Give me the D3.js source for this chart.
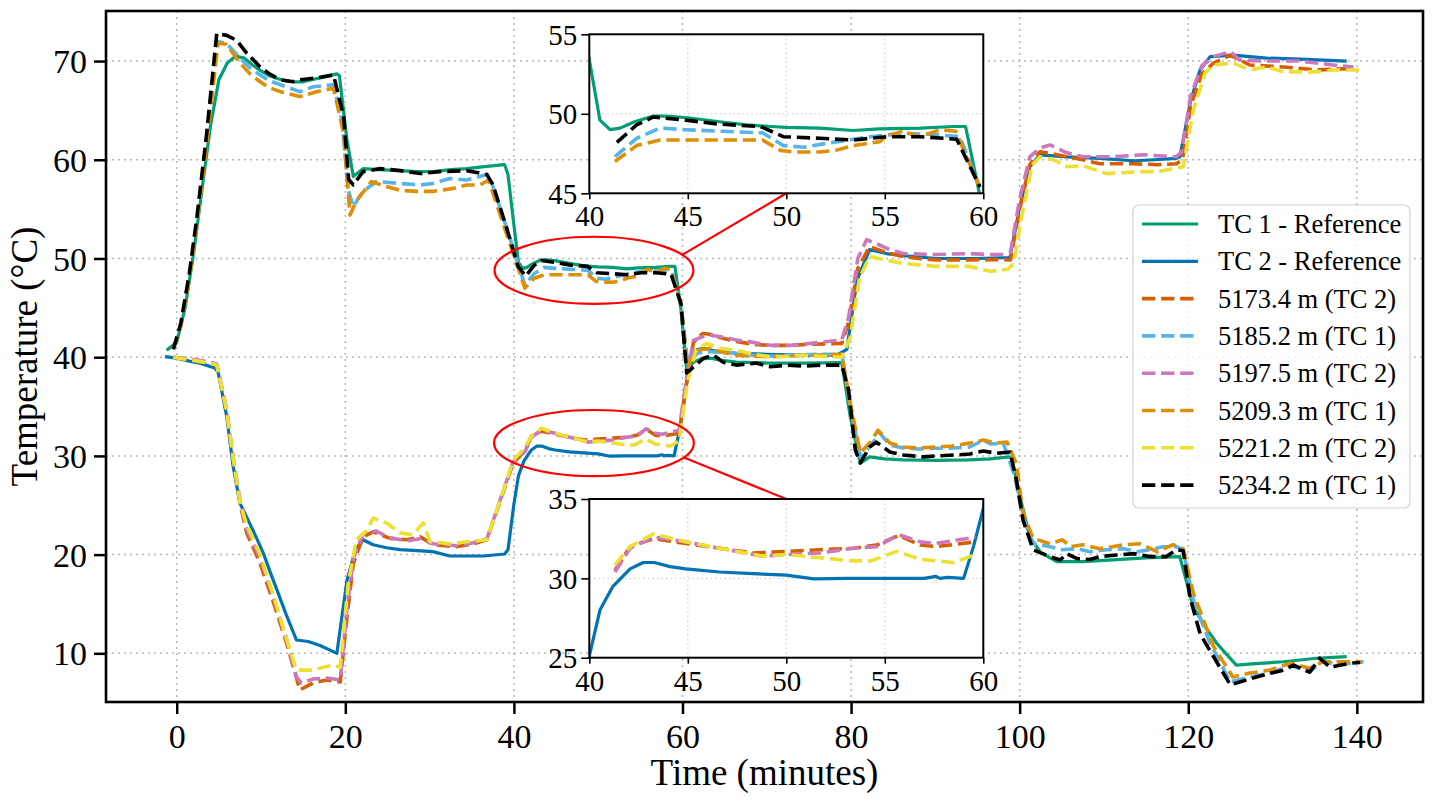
<!DOCTYPE html>
<html>
<head>
<meta charset="utf-8">
<script src="https://cdn.jsdelivr.net/npm/d3@7"></script>
<style>
  body { margin: 0; background: #fff; }
  text { font-family: "Liberation Serif", "Times New Roman", serif; fill: #000; }
</style>
</head>
<body>
<svg id="chart" width="1434" height="803"></svg>
<script>
// ---- data: [time (min), temperature (°C)] ----
const tc1Ref = [[-1.2,40.7],[0,41.5],[1,45],[2,50.5],[3,57],[4,63.4],[5,68.1],[6,69.8],[7,70.5],[8,70.3],[9,69.6],[10,69.0],[11,68.5],[12,68.2],[13,68.0],[14,67.9],[15,67.9],[16,68.1],[17,68.3],[18,68.5],[19,68.7],[19.3,68.5],[20.2,62],[20.95,58.3],[22.1,59.1],[24,59.0],[26.5,58.9],[28.5,58.8],[30.4,58.8],[32.5,59.0],[34.4,59.1],[36.5,59.3],[38.9,59.5],[39.3,58.5],[40,53.4],[40.54,49.6],[41.05,49.0],[41.56,49.1],[42.3,49.5],[43.25,49.86],[43.9,49.85],[45,49.75],[46.6,49.5],[48,49.3],[49.2,49.2],[50,49.15],[51.7,49.1],[53.4,48.95],[54.7,49.05],[56.8,49.1],[58.5,49.2],[59.1,49.2],[59.8,45],[60.5,38.7],[61.3,39.5],[62.1,39.8],[63.3,39.9],[64.5,39.7],[66.4,39.5],[68.5,39.45],[70.4,39.4],[74.4,39.4],[78.9,39.45],[79.9,34],[81.1,29.25],[82.2,29.9],[84,29.7],[86.2,29.6],[90.1,29.55],[94,29.6],[96.5,29.7],[98.8,29.9],[99.05,29.76],[100,26],[101.2,21.8],[102.5,20.2],[104.4,19.3],[107.5,19.3],[111.5,19.5],[115.5,19.7],[119.0,19.8],[120.6,14.7],[122,12.7],[123.4,11],[125.7,8.8],[128,8.95],[131.3,9.15],[135.2,9.5],[138.8,9.66]];

const tc2Ref = [[-1.4,40.05],[0,39.9],[1.5,39.6],[2.76,39.4],[4.5,38.9],[4.9,38.5],[5.93,34],[6.7,28.9],[7.5,25.2],[8.3,23.8],[9.3,22],[10.3,20.1],[11.1,18.2],[11.9,16.4],[13,13.9],[14.2,11.35],[15.6,11.2],[17.0,10.8],[18,10.4],[19,10],[19.4,12.5],[20.2,17.4],[21.2,20.5],[22.1,21.5],[23.3,21],[24.9,20.7],[26.5,20.5],[28.5,20.4],[30.4,20.3],[32.4,19.86],[34.5,19.86],[36.4,19.86],[38.9,20.06],[39.3,20.5],[40,25.1],[40.54,28],[41.2,29.5],[42.07,30.6],[42.74,31.0],[43.3,31.0],[44.1,30.74],[44.9,30.6],[46.6,30.4],[48.3,30.3],[50,30.2],[51.4,29.97],[53,30],[55,30],[57,30],[57.6,30.12],[57.8,30],[58.2,30.06],[59,30],[59.5,32],[60,34.4],[60.6,38],[61.3,40.7],[62.5,40.9],[64,40.6],[66.4,40.4],[70,40.3],[74,40.2],[78.3,40.2],[79.5,40.8],[80.7,47.8],[82.2,50.9],[84.2,50.5],[86,50.3],[90.1,50.0],[95,50],[98.85,50.1],[100,55.2],[101.2,59.3],[102.4,60.5],[105.6,60.3],[109.5,60.15],[113.5,59.9],[116,60],[118.6,60.15],[119,60.3],[120.3,66],[121.4,69.1],[122.6,70.45],[125.3,70.6],[129.3,70.3],[133.3,70.2],[138.8,70.0]];

const d5173 = [[-0.4,40.0],[1,39.8],[2.5,39.6],[3.95,39.4],[4.75,39.2],[5.9,34.65],[6.7,29.6],[7.5,25.2],[8.3,22.2],[9.9,19.1],[11.5,15.1],[13.05,11.0],[14.6,6.3],[16.2,7.0],[17.8,7.3],[19.4,7.1],[20.2,13.7],[20.95,19.1],[22.1,21.8],[23.3,22.3],[25.3,21.65],[27.3,21.5],[28.9,21.8],[30.4,21.0],[33.2,20.8],[35.2,21.1],[36.8,21.5],[38.4,25.5],[39.9,29.25],[41.3,30.5],[42.07,32.0],[43.25,32.5],[44.9,32.2],[46.6,31.9],[48.3,31.6],[50.0,31.7],[51.7,31.8],[53.4,31.9],[54.6,32.1],[55.7,32.7],[56.8,32.1],[57.6,32.0],[59.6,32.3],[60.5,37.5],[61.3,41.5],[62.4,42.4],[63.5,42.3],[64.4,42.0],[66.4,41.6],[68.4,41.3],[70.4,41.2],[72.5,41.2],[75.2,41.3],[78.9,41.4],[79.7,43.5],[80.8,49],[82.2,51.2],[84.2,50.6],[86.2,50.2],[88,50],[90.1,49.85],[94,49.85],[97,49.9],[98.9,49.85],[100,55],[101.2,59.5],[102.4,60.8],[104,60.6],[105.6,60.3],[107.5,60],[109.5,59.6],[113.5,59.6],[116.3,59.5],[118.6,59.6],[119.3,60],[120.3,65.5],[121.6,68.7],[123,69.8],[125,70.6],[127.3,69.6],[131.3,69.4],[135.2,69.1],[139.6,69.25]];

const d5185 = [[-0.4,40.8],[0.5,43.3],[1.5,48.2],[2.4,53.8],[3.6,62.3],[4.7,72],[5.9,71.8],[7.5,70.3],[8.7,69.3],[9.9,68.6],[11,68],[12.3,67.6],[14.6,66.9],[16.2,67.4],[18.6,67.6],[19.6,64],[20.35,56.9],[20.95,55.25],[22.1,56.8],[23.7,57.8],[26.5,57.6],[28.9,57.45],[30.4,57.6],[32.4,58.1],[34.4,57.95],[36.8,58.5],[37.4,57.6],[39.1,53.2],[41.3,47.3],[42.4,48.46],[43.6,49.1],[44.9,49.0],[46.8,48.9],[48.8,48.8],[49.85,48.0],[50.9,47.9],[52.6,48.25],[54.25,48.56],[55.9,48.77],[57.5,48.7],[58.8,48.56],[59.8,45.5],[60.6,39.5],[61.8,40.4],[62.9,40.55],[64.6,40.5],[66.4,40.4],[68.4,40.2],[70.4,40.1],[72.5,40.2],[75.9,40.3],[78.9,40.3],[79.9,35],[81.1,29.9],[82.2,30.9],[83.4,32.3],[84.6,31.1],[86.2,30.8],[88,30.7],[90.1,30.77],[92,30.8],[94.1,30.9],[95.7,31.6],[96.6,31.2],[98.05,31.3],[99.4,28],[100.4,23.8],[101.6,21.1],[103.6,20.8],[105.1,20.5],[106.8,20.6],[108.3,20.3],[110.3,20.5],[112.3,20.6],[113.9,20.3],[115.5,20.5],[117.0,20.8],[118.6,20.8],[119.4,20.5],[120.6,15.4],[122.6,11.0],[125.0,7.1],[127.3,7.6],[129.7,8.0],[132.1,8.8],[134.4,8.1],[136.0,9.3],[137.6,8.8],[139.2,9.0],[140.8,9.15]];

const d5197 = [[-0.4,40.0],[1,39.9],[2.5,39.7],[3.95,39.5],[4.75,39.3],[5.9,34.8],[6.7,29.8],[7.5,25.5],[8.3,22.6],[9.9,19.6],[11.5,15.6],[13.05,11.4],[14.2,7.6],[14.8,7.0],[16.2,7.4],[17.8,7.5],[19.4,7.3],[20.2,14.5],[20.95,19.6],[22.1,22.1],[23.6,22.4],[25.3,21.7],[27.3,21.4],[28.9,21.6],[30.4,21.1],[33.2,20.9],[35.2,21.2],[36.8,21.6],[38.4,25.6],[39.9,29.4],[41.3,30.4],[42.07,31.9],[43.25,32.6],[44.9,32.3],[46.6,31.9],[48.8,31.4],[50.0,31.5],[51.7,31.6],[53.4,31.9],[54.6,32.0],[55.7,32.75],[56.8,32.3],[57.6,32.2],[59.6,32.6],[60.5,38],[61.3,41.7],[62.9,42.25],[64.4,42.1],[66.4,41.75],[68.4,41.5],[70.4,41.2],[72.8,41.2],[75.2,41.4],[78.9,41.75],[79.7,44],[80.8,50],[81.85,51.9],[83.0,51.5],[84.6,50.9],[86.2,50.5],[90.1,50.4],[94.1,50.5],[96,50.4],[98.05,50.4],[98.9,50.6],[100,56],[101.2,60.3],[102.4,61.2],[103.6,61.5],[105.6,60.7],[107.5,60.3],[110.7,60.3],[114.7,60.5],[118.6,60.3],[119.2,60.8],[120.3,66.5],[121.6,69.5],[123,70.45],[125,70.95],[126.1,70.1],[129.3,70.0],[133.3,70.0],[137.2,69.6],[139.6,69.4]];

const d5209 = [[-0.4,40.8],[0.5,43.2],[1.5,48],[2.4,53.5],[3.6,62],[4.9,71.8],[5.9,71.7],[7.5,69.8],[8.7,68.7],[9.9,67.9],[11,67.3],[12.3,66.9],[14.6,66.4],[16.6,66.9],[18.6,67.25],[19.8,62.7],[20.55,54.4],[21.35,55.9],[23.1,57.8],[24.8,57.3],[26.5,56.9],[28.5,56.8],[30.4,56.8],[32.8,57.1],[34.4,57.45],[36.0,57.45],[37,57.95],[39.1,52.55],[41.3,47.0],[42.4,48.0],[43.6,48.35],[44.9,48.35],[46.8,48.35],[48.8,48.35],[49.7,47.7],[50.35,47.6],[51.7,47.6],[52.5,47.7],[53.4,48.0],[54.75,48.25],[55.1,48.6],[55.9,48.9],[56.8,48.56],[57.8,49.0],[58.6,48.9],[59.8,45.4],[60.6,39],[61.7,40.7],[63.3,40.9],[64.8,40.5],[66.4,40.2],[68.4,40.1],[70.4,40.05],[72.4,40.1],[74.4,40.2],[76.6,40.2],[78.9,40.3],[79.9,35.4],[81.1,30.3],[82.2,31.3],[83.2,32.6],[84.6,31.3],[86.2,30.9],[88,30.8],[90.1,30.9],[92,31.0],[94.1,31.3],[95.7,31.6],[97.3,31.3],[98.5,31.4],[99.6,29.25],[100.4,24.2],[101.6,21.65],[103.6,21.1],[105.1,21.5],[106,20.8],[107.5,21],[109.5,20.6],[111,20.8],[112.3,21],[114.3,21.1],[116.3,20.3],[118.2,21],[119.4,20.6],[120.6,16.1],[123.0,10.7],[125.3,7.6],[127.3,8.0],[129.7,8.3],[132.1,9.0],[134.4,8.5],[136.0,9.15],[139.2,9.15],[140.6,9.15]];

const d5221 = [[-0.4,40.0],[1,39.8],[2.5,39.6],[3.95,39.4],[4.75,39.2],[5.9,34.7],[6.7,29.7],[7.5,25.3],[8.3,23.0],[9.9,20.0],[11.5,15.8],[13.05,11.35],[14.2,8.3],[16.2,8.3],[17.4,8.6],[18.6,8.8],[19.4,8.6],[20.35,17.1],[21.3,21.5],[22.5,22.4],[23.3,23.7],[24.9,23.2],[26.5,22.2],[28.0,22.0],[29.25,23.2],[30.05,21.3],[32.4,21.1],[34.4,21.3],[36.8,21.5],[38.4,25.6],[39.9,29.5],[41.3,30.85],[42.07,32.0],[43.25,32.8],[44.9,32.3],[46.6,31.9],[48.8,31.4],[50,31.5],[51.7,31.3],[53.4,31.1],[54.3,31.1],[55.6,31.7],[56.8,31.2],[58.5,31.0],[59.6,31.5],[60.6,37.5],[61.6,40.8],[62.9,41.4],[64.4,40.9],[66.4,40.7],[68.4,40.3],[70.4,40.05],[72.5,40.1],[74.4,40.2],[76.5,40.1],[78.9,40.0],[79.9,42],[81,48],[82.2,50.2],[84.2,49.8],[86.2,49.5],[90.1,49.2],[94,49.2],[96.5,48.7],[98.6,48.9],[99.3,49.5],[100.4,55],[101.5,59.5],[102.4,60.3],[104,60],[105.6,59.3],[107.5,59.4],[110.3,58.6],[112.5,58.7],[114.5,58.8],[116.5,58.8],[118.2,59.1],[119.4,59.3],[120.6,65],[122,68.8],[123,69.6],[125.3,69.8],[127.3,69.1],[129.3,69.4],[131.3,68.9],[135.2,68.9],[137.2,69.1],[140.4,69.1]];

const d5234 = [[-0.4,40.8],[0.5,43.5],[1.5,48.5],[2.4,54.2],[3.56,62.7],[4.75,72.8],[5.93,72.6],[7.1,72.1],[8.3,70.8],[9.9,69.4],[11,68.7],[12.3,68.1],[13.8,67.9],[14.6,68.1],[16.6,68.3],[18.6,68.6],[19.8,64.4],[20.4,58],[20.95,57.45],[22.1,58.8],[24.1,59.1],[26.5,58.9],[28.9,58.6],[31.2,58.8],[34.4,58.9],[36.8,58.5],[37.5,57.5],[39.1,53.2],[40.5,49.2],[41.4,48.2],[42.4,49.3],[43.25,49.8],[44.9,49.6],[46.6,49.35],[48.7,49.2],[49.85,48.56],[51.7,48.46],[53.4,48.35],[55.1,48.56],[56.8,48.56],[58.65,48.4],[59.83,45.4],[60.5,38.4],[60.9,38.7],[62.5,39.9],[63.7,40.2],[64.8,39.5],[66.4,39.2],[68.7,39.4],[70.4,39.04],[72.5,39.2],[74.4,39.1],[76.5,39.2],[78.9,39.2],[79.7,36.7],[80.5,30.6],[81.1,29.3],[82.2,30.9],[83.0,31.4],[84.6,30.4],[86.2,30.1],[88.6,29.9],[90.1,30],[92.5,30.1],[94.1,30.2],[95.7,30.5],[97.3,30.26],[98.85,30.4],[99.6,27.6],[100.4,23.5],[101.6,20.5],[103.6,19.8],[104.8,19.45],[105.6,20.1],[106.8,19.6],[108.3,19.5],[109.5,19.8],[111.5,19.96],[113.5,20.1],[115.5,19.8],[117.4,19.8],[118.6,20.5],[119.4,20.4],[120.2,15.7],[121.4,12.0],[123.0,9.66],[125.0,6.8],[126.1,7.1],[128.1,7.6],[129.7,7.97],[131.3,8.3],[132.5,8.8],[134.4,8.1],[135.6,9.5],[136.8,8.6],[139.2,9.0],[140.4,9.07]];

const seriesNames = ["TC 1 - Reference", "TC 2 - Reference", "5173.4 m (TC 2)", "5185.2 m (TC 1)",
                     "5197.5 m (TC 2)", "5209.3 m (TC 1)", "5221.2 m (TC 2)", "5234.2 m (TC 1)"];
const seriesColors = ["#029e73", "#0173b2", "#d55e00", "#56b4e9", "#cc78bc", "#de8f05", "#ece133", "#000000"];
const seriesData = [tc1Ref, tc2Ref, d5173, d5185, d5197, d5209, d5221, d5234];

const xTicks = [0, 20, 40, 60, 80, 100, 120, 140];
const yTicks = [10, 20, 30, 40, 50, 60, 70];
const insetXTicks = [40, 45, 50, 55, 60];
const insetTopYTicks = [45, 50, 55];
const insetBotYTicks = [25, 30, 35];
const insetTopSeries = [0, 3, 5, 7];
const insetBotSeries = [1, 2, 4, 6];
// zoom ellipses: centre (time, temp), width, height in data units
const zoomEllipses = [{t: 49.5, v: 48.8, w: 23.6, h: 6.8}, {t: 49.5, v: 31.3, w: 23.7, h: 6.7}];

// ---- layout ----
const svg = d3.select("#chart");
const plot = {left: 106, right: 1423, top: 11, bottom: 702};
const x = d3.scaleLinear([-8.39, 147.85], [plot.left, plot.right]);
const y = d3.scaleLinear([5.07, 75.07], [plot.bottom, plot.top]);

const solidW = 3.2, dashW = 3.6, dashPat = "13.3,5.8";

svg.append("clipPath").attr("id", "clipMain")
  .append("rect").attr("x", plot.left).attr("y", plot.top)
  .attr("width", plot.right - plot.left).attr("height", plot.bottom - plot.top);

// grid
const grid = svg.append("g").attr("stroke", "#b8b8b8").attr("stroke-width", 1.5)
  .attr("stroke-dasharray", "2,4");
grid.selectAll(".gx").data(xTicks).join("line")
  .attr("x1", d => x(d)).attr("x2", d => x(d)).attr("y1", plot.top).attr("y2", plot.bottom);
grid.selectAll(".gy").data(yTicks).join("line")
  .attr("y1", d => y(d)).attr("y2", d => y(d)).attr("x1", plot.left).attr("x2", plot.right);

function drawSeries(g, idx, xs, ys, rows) {
  const line = d3.line().x(d => xs(d[0])).y(d => ys(d[1]));
  const dashed = idx >= 2;
  g.append("path")
    .attr("d", line(rows))
    .attr("fill", "none")
    .attr("stroke", seriesColors[idx])
    .attr("stroke-width", dashed ? dashW : solidW)
    .attr("stroke-dasharray", dashed ? dashPat : null)
    .attr("stroke-linejoin", "round");
}

const lines = svg.append("g").attr("clip-path", "url(#clipMain)");
seriesData.forEach((rows, i) => drawSeries(lines, i, x, y, rows));

// zoom ellipses and connectors
const insetX = d3.scaleLinear([40, 60], [589.3, 983.3]);
const insetTopY = d3.scaleLinear([45, 55], [193.3, 34.3]);
const insetBotY = d3.scaleLinear([25, 35], [657.7, 499]);

const ann = svg.append("g").attr("fill", "none").attr("stroke", "#ff0000").attr("stroke-width", 2.2);
zoomEllipses.forEach((e, i) => {
  const cx = x(e.t), cy = y(e.v);
  const rx = x(e.t + e.w / 2) - cx, ry = y(e.v - e.h / 2) - cy;
  ann.append("ellipse").attr("cx", cx).attr("cy", cy).attr("rx", rx).attr("ry", ry);
  const th = i === 0 ? 0.48 : -0.45;
  const tx = insetX(50), ty = i === 0 ? insetTopY(45) : insetBotY(35);
  ann.append("line").attr("x1", cx + rx * Math.cos(th)).attr("y1", cy - ry * Math.sin(th))
    .attr("x2", tx).attr("y2", ty);
});

// main axes
const xAxis = svg.append("g").attr("transform", `translate(0,${plot.bottom})`)
  .call(d3.axisBottom(x).tickValues(xTicks).tickSize(12).tickFormat(d3.format("d")));
xAxis.selectAll("text").attr("dy", null).attr("y", 46).style("font-size", "34px");
const yAxis = svg.append("g").attr("transform", `translate(${plot.left},0)`)
  .call(d3.axisLeft(y).tickValues(yTicks).tickSize(12).tickFormat(d3.format("d")));
yAxis.selectAll("text").attr("x", -19).attr("dy", "0.34em").style("font-size", "34px");
[xAxis, yAxis].forEach(a => {
  a.select(".domain").remove();
  a.selectAll(".tick line").attr("stroke", "#000").attr("stroke-width", 2.5);
  a.selectAll("text").attr("fill", "#000").style("font-family", "Liberation Serif, serif");
});
svg.append("rect").attr("x", plot.left).attr("y", plot.top)
  .attr("width", plot.right - plot.left).attr("height", plot.bottom - plot.top)
  .attr("fill", "none").attr("stroke", "#000").attr("stroke-width", 2.6);

svg.append("text").attr("x", (plot.left + plot.right) / 2).attr("y", 785)
  .attr("text-anchor", "middle").style("font-size", "37px").text("Time (minutes)");
svg.append("text").attr("transform", `translate(37,${(plot.top + plot.bottom) / 2}) rotate(-90)`)
  .attr("text-anchor", "middle").style("font-size", "37px").text("Temperature (°C)");

// legend
const leg = svg.append("g");
leg.append("rect").attr("x", 1133).attr("y", 205).attr("width", 277).attr("height", 303)
  .attr("rx", 6).attr("fill", "#fff").attr("fill-opacity", 0.8)
  .attr("stroke", "#d2d2d2").attr("stroke-width", 1.2);
seriesNames.forEach((name, i) => {
  const ry = 224 + i * 37.3;
  leg.append("line").attr("x1", 1142).attr("x2", 1198).attr("y1", ry).attr("y2", ry)
    .attr("stroke", seriesColors[i]).attr("stroke-width", i >= 2 ? dashW : solidW)
    .attr("stroke-dasharray", i >= 2 ? dashPat : null);
  leg.append("text").attr("x", 1218).attr("y", ry + 9).style("font-size", "26.5px").text(name);
});

// insets
function drawInset(id, yS, yTicksIn, members) {
  const [x0, x1] = insetX.range();
  const [y1, y0] = yS.range();
  const g = svg.append("g");
  g.append("rect").attr("x", x0).attr("y", y0).attr("width", x1 - x0).attr("height", y1 - y0)
    .attr("fill", "#fff");
  g.append("clipPath").attr("id", id).append("rect")
    .attr("x", x0).attr("y", y0).attr("width", x1 - x0).attr("height", y1 - y0);
  const gg = g.append("g").attr("stroke", "#cfcfcf").attr("stroke-width", 1.2)
    .attr("stroke-dasharray", "1.5,3");
  insetXTicks.slice(1, -1).forEach(t => gg.append("line")
    .attr("x1", insetX(t)).attr("x2", insetX(t)).attr("y1", y0).attr("y2", y1));
  yTicksIn.slice(1, -1).forEach(t => gg.append("line")
    .attr("y1", yS(t)).attr("y2", yS(t)).attr("x1", x0).attr("x2", x1));
  const lg = g.append("g").attr("clip-path", `url(#${id})`);
  members.forEach(i => {
    const rows = i >= 2 ? seriesData[i].filter(d => d[0] >= 41.2 && d[0] <= 59.9) : seriesData[i];
    drawSeries(lg, i, insetX, yS, rows);
  });
  const ax = g.append("g").attr("transform", `translate(0,${y1})`)
    .call(d3.axisBottom(insetX).tickValues(insetXTicks).tickSize(6).tickFormat(d3.format("d")));
  ax.selectAll("text").attr("dy", null).attr("y", 33);
  const ay = g.append("g").attr("transform", `translate(${x0},0)`)
    .call(d3.axisLeft(yS).tickValues(yTicksIn).tickSize(8).tickFormat(d3.format("d")));
  ay.selectAll("text").attr("x", -12).attr("dy", "0.34em");
  [ax, ay].forEach(a => {
    a.select(".domain").remove();
    a.selectAll(".tick line").attr("stroke", "#000").attr("stroke-width", 1.6);
    a.selectAll("text").attr("fill", "#000").style("font-size", "29px")
      .style("font-family", "Liberation Serif, serif");
  });
  g.append("rect").attr("x", x0).attr("y", y0).attr("width", x1 - x0).attr("height", y1 - y0)
    .attr("fill", "none").attr("stroke", "#000").attr("stroke-width", 2);
}
drawInset("clipTop", insetTopY, insetTopYTicks, insetTopSeries);
drawInset("clipBot", insetBotY, insetBotYTicks, insetBotSeries);
</script>
</body>
</html>
